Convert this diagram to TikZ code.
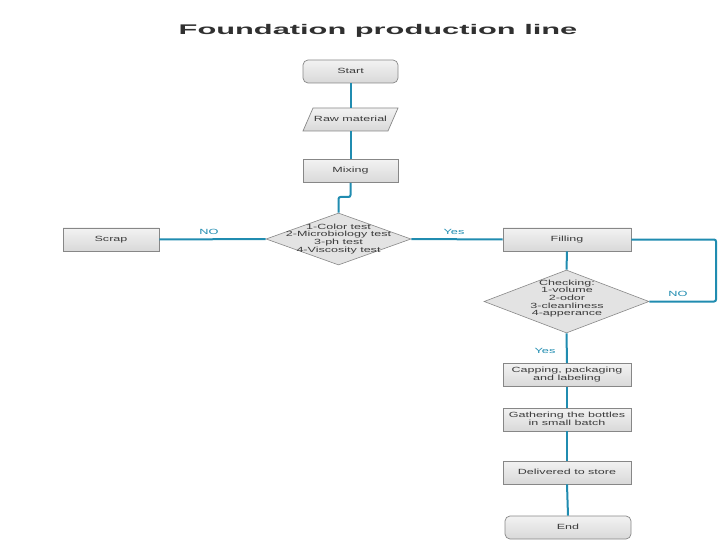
\documentclass[tikz,border=0pt]{standalone}
\usepackage{fontspec}
\usepackage{graphicx}
\setmainfont{Liberation Sans}
\usetikzlibrary{shapes.geometric}
\definecolor{teal1}{RGB}{32,140,176}
\definecolor{bord}{RGB}{135,135,135}
\definecolor{txt}{RGB}{60,60,60}
\newcommand\wtxt[1]{\raisebox{-1.5pt}{\scalebox{1.67}[1]{\begin{tabular}{@{}c@{}}#1\end{tabular}}}}
\newcommand\dtxt[1]{\scalebox{1.67}[1]{\begin{tabular}{@{}c@{}}#1\end{tabular}}}
\tikzset{
  boxshape/.style={draw=bord, line width=0.7pt, top color=white!95!black, bottom color=white!85!black, inner sep=0pt, font=\fontsize{7.5}{8}\selectfont, text=txt},
  stepbox/.style={boxshape, rectangle, minimum width=#1, minimum height=23pt},
  termbox/.style={boxshape, rectangle, rounded corners=5pt, minimum width=#1, minimum height=23pt},
  decbox/.style={draw=bord, line width=0.6pt, fill=white!89!black, diamond, inner sep=0pt},
  dectext/.style={inner sep=0pt, font=\fontsize{7.5}{7.6}\selectfont, text=txt},
  conn/.style={draw=teal1, line width=2pt},
  lab/.style={text=teal1, font=\fontsize{7.5}{8}\selectfont, inner sep=0pt}
}
\begin{document}
\begin{tikzpicture}[x=1pt,y=-1pt]
\useasboundingbox (0,0) rectangle (720,540);
% title
\node (title) [font=\bfseries\fontsize{14}{16}\selectfont, text=txt!80!black] at (378,30.5) {\scalebox{2.2}[1]{Foundation production line}};
% nodes
\node (start) [termbox=95pt] at (350.5,71.5) {\wtxt{Start}};
\path[draw=bord, line width=0.7pt, top color=white!95!black, bottom color=white!85!black] (313,108) -- (398,108) -- (388,131) -- (303,131) -- cycle;
\node (raw) [inner sep=0pt, font=\fontsize{7.5}{8}\selectfont, text=txt, minimum height=23pt] at (350.5,119.5) {\wtxt{Raw material}};
\node (mix) [stepbox=95pt] at (350.5,171) {\wtxt{Mixing}};
\node (d1) [decbox, minimum width=145pt, minimum height=52pt] at (338.5,239) {};
\node (d1t) [dectext] at (338.5,239) {\dtxt{1-Color test\\2-Microbiology test\\3-ph test\\4-Viscosity test}};
\node (scrap) [stepbox=96pt] at (111,239.5) {\wtxt{Scrap}};
\node (fill) [stepbox=128pt] at (567,239.5) {\wtxt{Filling}};
\node (d2) [decbox, minimum width=165pt, minimum height=63pt] at (566.5,301.5) {};
\node (d2t) [dectext] at (567,299) {\dtxt{Checking:\\1-volume\\2-odor\\3-cleanliness\\4-apperance}};
\node (cap) [stepbox=128pt] at (567,375) {\wtxt{Capping, packaging\\and labeling}};
\node (gath) [stepbox=128pt] at (567,419.5) {\wtxt{Gathering the bottles\\in small batch}};
\node (deliv) [stepbox=128pt] at (567,472.5) {\wtxt{Delivered to store}};
\node (end) [termbox=126pt] at (568,527.5) {\wtxt{End}};
% connectors
\draw[conn] (start.south) -- (350.5,108);
\draw[conn] (raw.south) -- (mix.north);
\coordinate (j1) at (350.5,197);
\coordinate (j2) at (338.5,197);
\draw[conn, rounded corners=2pt] (mix.south) -- (j1) -- (j2) -- (d1.north);
\draw[conn] (d1.west) -- (scrap.east);
\draw[conn] (d1.east) -- (fill.west);
\draw[conn] (fill.south) -- (d2.north);
\coordinate (r1) at (716,239.5);
\coordinate (r2) at (716,301.5);
\draw[conn, rounded corners=2pt] (fill.east) -- (r1) -- (r2) -- (d2.east);
\draw[conn] (d2.south) -- (cap.north);
\draw[conn] (cap.south) -- (gath.north);
\draw[conn] (gath.south) -- (deliv.north);
\draw[conn] (deliv.south) -- (end.north);
% labels
\node (lno1) [lab] at (209,232) {\scalebox{1.7}[1]{NO}};
\node (lyes1) [lab] at (454,232) {\scalebox{1.7}[1]{Yes}};
\node (lno2) [lab] at (678,293.5) {\scalebox{1.7}[1]{NO}};
\node (lyes2) [lab] at (545,350.5) {\scalebox{1.7}[1]{Yes}};
\end{tikzpicture}
\end{document}
